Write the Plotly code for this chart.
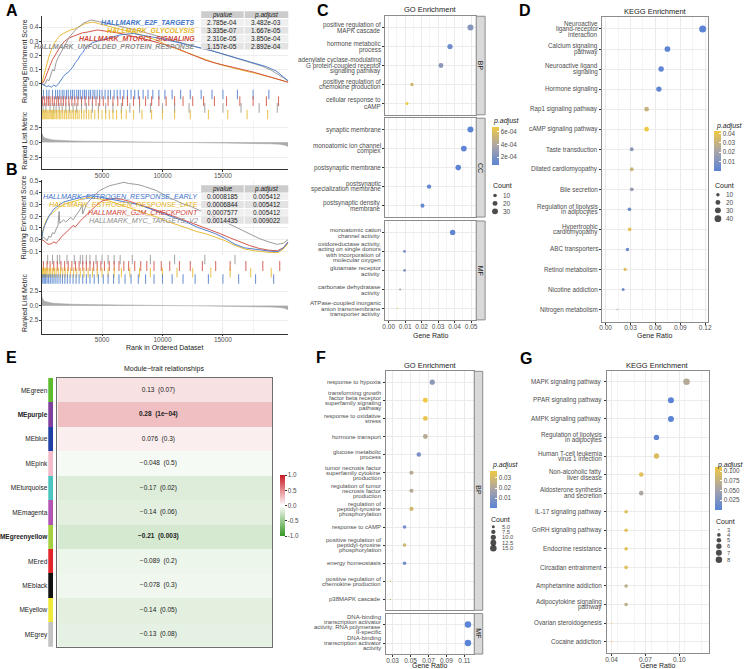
import plotly.graph_objects as go

W, H = 744, 669
FONT = "Arial, Liberation Sans, Helvetica, sans-serif"
TICK = "#4D4D4D"
TXT = "#222222"

# ============================ DATA ============================
# ---------------- Panel A : GSEA ----------------
A_sets = ["HALLMARK_E2F_TARGETS", "HALLMARK_GLYCOLYSIS",
          "HALLMARK_MTORC1_SIGNALING", "HALLMARK_UNFOLDED_PROTEIN_RESPONSE"]
A_pvalue = ["2.785e-04", "3.335e-07", "2.310e-05", "1.157e-05"]
A_padjust = ["3.482e-03", "1.667e-05", "3.850e-04", "2.892e-04"]

A_e2f_rank = [0, 200, 400, 600, 800, 1000, 1200, 1400, 1600, 1800, 2000, 2200, 2400, 2600, 2800, 3000,
              3200, 3400, 3600, 3900, 4200, 4600, 5000, 5500, 6000, 6500, 7000, 7600, 8200, 9000, 9800,
              10600, 11400, 12200, 13000, 13800, 14600, 15400, 16200, 17000, 17800, 18600, 19400, 20000, 20400]
A_e2f_es = [0, -0.01, -0.02, -0.015, -0.025, -0.01, -0.02, 0.0, 0.03, 0.05, 0.07, 0.08, 0.1, 0.12, 0.15, 0.17,
            0.2, 0.22, 0.25, 0.27, 0.29, 0.3, 0.31, 0.32, 0.335, 0.345, 0.35, 0.355, 0.345, 0.335, 0.32,
            0.305, 0.29, 0.27, 0.255, 0.24, 0.22, 0.2, 0.18, 0.16, 0.14, 0.12, 0.09, 0.05, 0.02]

A_glyc_rank = [0, 150, 300, 450, 600, 800, 1000, 1250, 1500, 1800, 2100, 2400, 2700, 3000, 3300, 3600,
               3900, 4300, 4700, 5200, 5800, 6500, 7200, 8000, 8800, 9600, 10400, 11200, 12000, 12800,
               13600, 14400, 15200, 16000, 16800, 17600, 18400, 19200, 19800, 20400]
A_glyc_es = [0, 0.05, 0.1, 0.15, 0.19, 0.24, 0.28, 0.31, 0.34, 0.355, 0.37, 0.38, 0.385, 0.4, 0.41, 0.425,
             0.43, 0.435, 0.425, 0.415, 0.4, 0.385, 0.37, 0.35, 0.33, 0.305, 0.27, 0.245, 0.22, 0.19,
             0.165, 0.145, 0.125, 0.105, 0.09, 0.075, 0.06, 0.04, 0.025, 0.01]

A_mtor_rank = [0, 150, 300, 500, 700, 900, 1100, 1300, 1600, 1900, 2200, 2600, 3000, 3400, 3800, 4200,
               4600, 5000, 5600, 6200, 6800, 7400, 8000, 8800, 9600, 10400, 11200, 12000, 12800, 13600,
               14400, 15200, 16000, 16800, 17600, 18400, 19200, 19800, 20400]
A_mtor_es = [0, 0.01, 0.04, 0.09, 0.13, 0.17, 0.2, 0.23, 0.27, 0.3, 0.32, 0.335, 0.35, 0.36, 0.365, 0.375,
             0.38, 0.375, 0.37, 0.36, 0.35, 0.34, 0.325, 0.31, 0.29, 0.27, 0.25, 0.22, 0.19, 0.165,
             0.145, 0.13, 0.11, 0.095, 0.08, 0.06, 0.04, 0.025, 0.01]

A_upr_rank = [0, 150, 300, 450, 600, 750, 900, 1050, 1200, 1400, 1600, 1800, 2000, 2300, 2600, 2900,
              3200, 3500, 3800, 4100, 4400, 4800, 5200, 5800, 6400, 7000, 7800, 8600, 9400, 10200,
              11000, 11800, 12600, 13400, 14200, 15000, 15800, 16600, 17400, 18200, 19000, 19700, 20400]
A_upr_es = [0, -0.01, 0.0, 0.03, 0.02, 0.07, 0.1, 0.09, 0.15, 0.19, 0.22, 0.26, 0.29, 0.33, 0.36, 0.39,
            0.41, 0.43, 0.44, 0.45, 0.445, 0.44, 0.43, 0.42, 0.41, 0.395, 0.38, 0.36, 0.34, 0.32,
            0.3, 0.28, 0.26, 0.245, 0.23, 0.21, 0.19, 0.17, 0.15, 0.125, 0.095, 0.06, 0.02]

A_e2f_hits = [150, 420, 610, 900, 1150, 1320, 1500, 1700, 1850, 2050, 2200, 2400, 2550, 2700, 2900, 3050,
              3200, 3400, 3550, 3700, 3900, 4050, 4250, 4400, 4600, 4800, 5000, 5250, 5500, 5700, 6000,
              6250, 6500, 6800, 7100, 7400, 7700, 8000, 8400, 8800, 9200, 9700, 10200, 10800, 11500,
              12300, 13200, 14100, 15000, 16200, 17500, 18800]
A_glyc_hits = [30, 100, 180, 260, 350, 430, 520, 610, 700, 800, 900, 1000, 1100, 1220, 1350, 1480, 1600,
               1750, 1900, 2050, 2200, 2350, 2500, 2650, 2800, 2950, 3100, 3300, 3500, 3700, 3900, 4100,
               4400, 4700, 5000, 5300, 5600, 5900, 6200, 6600, 7000, 7600, 8300, 9100, 10000, 11000,
               12300, 13800, 15400, 17000, 18700]
A_mtor_hits = [80, 250, 420, 560, 700, 880, 1050, 1250, 1400, 1600, 1800, 2000, 2250, 2500, 2750, 3000,
               3300, 3600, 3900, 4200, 4500, 4800, 5100, 5500, 5900, 6300, 6700, 7100, 7600, 8100, 8600,
               9100, 9700, 10300, 11000, 11700, 12500, 13400, 14300, 15300, 16400, 17500, 18600, 19600]
A_upr_hits = [120, 350, 700, 1000, 1200, 1450, 1700, 2000, 2300, 2600, 2900, 3300, 3700, 4200, 4700,
              5300, 5900, 6600, 7300, 8100, 9000, 10000, 11000, 12200, 13500, 15000, 16500, 18000, 19500]

# ---------------- Panel B : GSEA ----------------
B_sets = ["HALLMARK_ESTROGEN_RESPONSE_EARLY", "HALLMARK_ESTROGEN_RESPONSE_LATE",
          "HALLMARK_G2M_CHECKPOINT", "HALLMARK_MYC_TARGETS_V2"]
B_pvalue = ["0.0008185", "0.0006844", "0.0007577", "0.0014435"]
B_padjust = ["0.005412", "0.005412", "0.005412", "0.009022"]

B_early_rank = [0, 100, 250, 400, 600, 800, 1000, 1250, 1500, 1800, 2100, 2400, 2800, 3200, 3600, 4000,
                4500, 5000, 5600, 6200, 6800, 7400, 8000, 8800, 9600, 10400, 11200, 12000, 12800, 13600,
                14400, 15200, 16000, 16800, 17600, 18400, 19000, 19600, 20000, 20400]
B_early_es = [0, 0.07, 0.12, 0.16, 0.2, 0.23, 0.26, 0.28, 0.3, 0.32, 0.33, 0.34, 0.35, 0.36, 0.37, 0.375,
              0.37, 0.36, 0.35, 0.34, 0.325, 0.31, 0.3, 0.27, 0.24, 0.21, 0.18, 0.15, 0.11, 0.08,
              0.05, 0.01, -0.04, -0.07, -0.08, -0.09, -0.1, -0.1, -0.07, -0.02]

B_late_rank = [0, 100, 250, 400, 600, 800, 1000, 1250, 1500, 1800, 2100, 2400, 2800, 3200, 3600, 4000,
               4500, 5000, 5600, 6200, 6800, 7400, 8000, 8800, 9600, 10400, 11200, 12000, 12800, 13600,
               14400, 15200, 16000, 16800, 17600, 18400, 19000, 19600, 20000, 20400]
B_late_es = [0, 0.08, 0.13, 0.17, 0.2, 0.22, 0.24, 0.26, 0.28, 0.3, 0.31, 0.32, 0.335, 0.345, 0.355, 0.36,
             0.355, 0.345, 0.33, 0.31, 0.29, 0.27, 0.25, 0.22, 0.19, 0.155, 0.13, 0.1, 0.07, 0.05,
             0.02, -0.01, -0.05, -0.08, -0.095, -0.105, -0.11, -0.11, -0.08, -0.03]

B_g2m_rank = [0, 200, 400, 600, 800, 1000, 1200, 1400, 1600, 1800, 2000, 2200, 2400, 2600, 2800, 3000,
              3200, 3400, 3600, 3800, 4000, 4300, 4600, 5000, 5500, 6000, 6600, 7200, 7800, 8500, 9200,
              10000, 10800, 11600, 12400, 13200, 14000, 14800, 15600, 16400, 17200, 18000, 18800,
              19500, 20000, 20400]
B_g2m_es = [0, -0.01, -0.03, -0.04, -0.035, -0.02, -0.03, -0.01, 0.02, 0.04, 0.06, 0.08, 0.1, 0.12, 0.11,
            0.14, 0.16, 0.18, 0.2, 0.22, 0.24, 0.27, 0.3, 0.33, 0.345, 0.35, 0.345, 0.33, 0.31, 0.29,
            0.265, 0.235, 0.205, 0.175, 0.145, 0.11, 0.08, 0.05, 0.015, -0.02, -0.05, -0.075, -0.09,
            -0.095, -0.07, -0.02]

B_myc_rank = [0, 150, 300, 450, 600, 750, 900, 1050, 1200, 1350, 1450, 1500, 1650, 1800, 2000, 2200, 2400,
              2600, 2800, 3000, 3200, 3350, 3400, 3550, 3700, 4000, 4400, 4800, 5200, 5600, 6000, 6400,
              6800, 7200, 7600, 8000, 8500, 9000, 9500, 10000, 10500, 11000, 11600, 12200, 12800,
              13400, 14000, 14800, 15600, 16400, 17200, 18000, 18800, 19500, 20000, 20400]
B_myc_es = [0, 0.02, 0.01, -0.01, 0.03, 0.02, 0.06, 0.05, 0.09, 0.12, 0.24, 0.14, 0.15, 0.17, 0.15, 0.17,
            0.19, 0.17, 0.2, 0.23, 0.26, 0.3, 0.22, 0.26, 0.3, 0.34, 0.38, 0.42, 0.44, 0.46, 0.47, 0.48,
            0.49, 0.48, 0.475, 0.47, 0.455, 0.44, 0.42, 0.39, 0.36, 0.34, 0.31, 0.29, 0.26, 0.235,
            0.21, 0.17, 0.13, 0.09, 0.05, 0.01, -0.02, -0.04, -0.03, 0.0]

B_early_hits = [40, 120, 220, 330, 450, 580, 720, 870, 1020, 1180, 1350, 1530, 1720, 1920, 2130, 2350,
                2600, 2850, 3100, 3400, 3700, 4000, 4350, 4700, 5100, 5500, 5950, 6400, 6900, 7400,
                8000, 8600, 9300, 10000, 10800, 11700, 12700, 13800, 15000, 16300, 17700, 19200]
B_late_hits = [20, 80, 150, 230, 320, 420, 520, 640, 760, 900, 1050, 1200, 1380, 1560, 1750, 1950, 2150,
               2400, 2650, 2900, 3200, 3500, 3850, 4200, 4600, 5000, 5500, 6000, 6600, 7300, 8100,
               9000, 10000, 11200, 12500, 14000, 15600, 17300, 19000]
B_g2m_hits = [150, 450, 700, 1000, 1300, 1600, 1900, 2200, 2500, 2800, 3100, 3400, 3700, 4000, 4300,
              4600, 4900, 5200, 5600, 6000, 6400, 6800, 7200, 7700, 8200, 8700, 9300, 9900, 10600,
              11400, 12300, 13300, 14400, 15600, 16900, 18300, 19700]
B_myc_hits = [500, 900, 1300, 1500, 2100, 2700, 3200, 3400, 3700, 4000, 4500, 5000, 5500, 6000, 6500,
              7500, 9000, 11000, 13500, 16000]

# ranked list metric (shared by A and B)
rank_x = [0, 50, 150, 300, 500, 800, 1200, 1700, 2500, 3500, 5000, 6500, 8000, 9500, 11000, 12500,
          14000, 15500, 17000, 18000, 19000, 19700, 20100, 20400]
rank_y = [1.6, 1.2, 0.9, 0.7, 0.55, 0.45, 0.37, 0.3, 0.24, 0.19, 0.13, 0.09, 0.06, 0.03, 0.0, -0.03,
          -0.06, -0.1, -0.14, -0.18, -0.24, -0.32, -0.45, -0.7]
rank_ticks = [5000, 10000, 15000]

# ---------------- Panel C : GO enrichment ----------------
C_BP_terms = ["positive regulation of<br>MAPK cascade", "hormone metabolic<br>process",
              "adenylate cyclase-modulating<br>G protein-coupled receptor<br>signaling pathway",
              "positive regulation of<br>chemokine production", "cellular response to<br>cAMP"]
C_BP_ratio = [0.0496, 0.0372, 0.0317, 0.0141, 0.0111]
C_BP_count = [31, 23, 20, 9, 7]
C_BP_padj = [2.4e-4, 1.4e-4, 2.5e-4, 5.2e-4, 6.7e-4]

C_CC_terms = ["synaptic membrane", "monoatomic ion channel<br>complex", "postsynaptic membrane",
              "postsynaptic<br>specialization membrane", "postsynaptic density<br>membrane"]
C_CC_ratio = [0.0496, 0.0456, 0.0422, 0.0245, 0.0205]
C_CC_count = [31, 28, 26, 15, 13]
C_CC_padj = [7e-5, 8e-5, 8e-5, 1.0e-4, 1.1e-4]

C_MF_terms = ["monoatomic cation<br>channel activity",
              "oxidoreductase activity,<br>acting on single donors<br>with incorporation of<br>molecular oxygen",
              "glutamate receptor<br>activity", "carbonate dehydratase<br>activity",
              "ATPase-coupled inorganic<br>anion transmembrane<br>transporter activity"]
C_MF_ratio = [0.0388, 0.0096, 0.0096, 0.0069, 0.0054]
C_MF_count = [24, 6, 6, 4, 3]
C_MF_padj = [8e-5, 1.8e-4, 2.2e-4, 3.6e-4, 6.5e-4]

# ---------------- Panel D : KEGG enrichment ----------------
D_terms = ["Neuroactive<br>ligand-receptor<br>interaction", "Calcium signaling<br>pathway",
           "Neuroactive ligand<br>signaling", "Hormone signaling", "Rap1 signaling pathway",
           "cAMP signaling pathway", "Taste transduction", "Dilated cardiomyopathy", "Bile secretion",
           "Regulation of lipolysis<br>in adipocytes", "Hypertrophic<br>cardiomyopathy", "ABC transporters",
           "Retinol metabolism", "Nicotine addiction", "Nitrogen metabolism"]
D_ratio = [0.117, 0.0745, 0.0669, 0.0642, 0.0494, 0.0494, 0.0315, 0.0315, 0.0315, 0.0287, 0.029,
           0.0263, 0.0235, 0.0211, 0.014]
D_count = [44, 28, 25, 24, 18, 18, 12, 12, 12, 11, 11, 10, 9, 8, 5]
D_padj = [0.0001, 0.0008, 0.0016, 0.0016, 0.030, 0.043, 0.013, 0.031, 0.016, 0.006, 0.040, 0.005,
          0.037, 0.007, 0.020]

# ---------------- Panel E : module-trait ----------------
E_modules = ["MEgreen", "MEpurple", "MEblue", "MEpink", "MEturquoise", "MEmagenta", "MEgreenyellow",
             "MEred", "MEblack", "MEyellow", "MEgrey"]
E_cor = [0.13, 0.28, 0.076, -0.048, -0.17, -0.14, -0.21, -0.089, -0.078, -0.14, -0.13]
E_cor_text = ["0.13", "0.28", "0.076", "\u22120.048", "\u22120.17", "\u22120.14", "\u22120.21",
              "\u22120.089", "\u22120.078", "\u22120.14", "\u22120.13"]
E_pval_text = ["0.07", "1e\u221204", "0.3", "0.5", "0.02", "0.06", "0.003", "0.2", "0.3", "0.05", "0.08"]
E_bold = [False, True, False, False, False, False, True, False, False, False, False]
E_module_colors = ["#5DBB2E", "#7E3F9E", "#1E3FA3", "#F4BCCB", "#4CC4C0", "#B254B4", "#A6D03F",
                   "#E2262B", "#111111", "#EFEA3A", "#C2C2C2"]

# ---------------- Panel F : GO enrichment ----------------
F_BP_terms = ["response to hypoxia",
              "transforming growth<br>factor beta receptor<br>superfamily signaling<br>pathway",
              "response to oxidative<br>stress", "hormone transport", "glucose metabolic<br>process",
              "tumor necrosis factor<br>superfamily cytokine<br>production",
              "regulation of tumor<br>necrosis factor<br>production",
              "regulation of<br>peptidyl-tyrosine<br>phosphorylation", "response to cAMP",
              "positive regulation of<br>peptidyl-tyrosine<br>phosphorylation", "energy homeostasis",
              "positive regulation of<br>chemokine production", "p38MAPK cascade"]
F_BP_ratio = [0.0742, 0.0665, 0.0665, 0.0665, 0.0592, 0.051, 0.051, 0.051, 0.0433, 0.0433, 0.0433,
              0.0275, 0.0275]
F_BP_count = [10, 9, 9, 9, 8, 7, 7, 7, 6, 6, 6, 4, 4]
F_BP_padj = [0.012, 0.037, 0.035, 0.022, 0.008, 0.022, 0.022, 0.029, 0.006, 0.028, 0.006, 0.031, 0.027]

F_MF_terms = ["DNA-binding<br>transcription activator<br>activity, RNA polymerase<br>II-specific",
              "DNA-binding<br>transcription activator<br>activity"]
F_MF_ratio = [0.114, 0.114]
F_MF_count = [15, 15]
F_MF_padj = [0.0005, 0.0005]

# ---------------- Panel G : KEGG enrichment ----------------
G_terms = ["MAPK signaling pathway", "PPAR signaling pathway", "AMPK signaling pathway",
           "Regulation of lipolysis<br>in adipocytes", "Human T-cell leukemia<br>virus 1 infection",
           "Non-alcoholic fatty<br>liver disease", "Aldosterone synthesis<br>and secretion",
           "IL-17 signaling pathway", "GnRH signaling pathway", "Endocrine resistance",
           "Circadian entrainment", "Amphetamine addiction", "Adipocytokine signaling<br>pathway",
           "Ovarian steroidogenesis", "Cocaine addiction"]
G_ratio = [0.1064, 0.0926, 0.0926, 0.0798, 0.0798, 0.0663, 0.0663, 0.0529, 0.0529, 0.0529, 0.0529,
           0.0529, 0.0529, 0.04, 0.04]
G_count = [8, 7, 7, 6, 6, 5, 5, 4, 4, 4, 4, 4, 4, 3, 3]
G_padj = [0.065, 0.0005, 0.0006, 0.004, 0.095, 0.1, 0.06, 0.1, 0.1, 0.1, 0.1, 0.072, 0.072, 0.112, 0.112]

# ============================ STYLE / HELPERS ============================
COL_BLUE, COL_YEL, COL_RED, COL_GREY = "#3F74C9", "#E6B422", "#CF4537", "#8E8E8E"
DOT_CS = [[0, "#5B84D6"], [0.5, "#A9A4A7"], [1, "#F0C843"]]
E_CS = [[0, "rgb(55,150,35)"], [0.5, "rgb(255,255,255)"], [1, "rgb(200,25,35)"]]
TF = dict(family=FONT, size=6.5, color=TICK)

fig = go.Figure()
L = {}
shapes = []
anns = []


def fx(p):
    return p / W


def fy(p):
    return 1 - p / H


def axes(i, x0, x1, y0, y1, xo, yo):
    s = "" if i == 1 else str(i)
    xa = dict(domain=[fx(x0), fx(x1)], anchor="y" + s, fixedrange=True)
    ya = dict(domain=[fy(y1), fy(y0)], anchor="x" + s, fixedrange=True)
    xa.update(xo)
    ya.update(yo)
    L["xaxis" + s] = xa
    L["yaxis" + s] = ya
    return "x" + s, "y" + s


def text(x, y, t, size=7, color=TXT, xanchor="center", yanchor="middle", angle=0):
    anns.append(dict(x=fx(x), y=fy(y), xref="paper", yref="paper", text=t, showarrow=False,
                     xanchor=xanchor, yanchor=yanchor, textangle=angle,
                     font=dict(family=FONT, size=size, color=color)))


def size_fn(counts, cmin, cmax, dmin, dmax):
    return [dmin + (max(c - cmin, 0) / (cmax - cmin)) ** 0.5 * (dmax - dmin) for c in counts]


# ============================ GSEA PANELS ============================
def gsea_axes(i0, top, es_bot, rug_bot, bot, es_range, es_ticks, rk_range):
    cx = dict(range=[0, 20410], zeroline=False, showgrid=True, gridcolor="#EBEBEB", gridwidth=0.6,
              tickvals=rank_ticks, ticktext=[str(v) for v in rank_ticks],
              minor=dict(tickvals=[2500, 7500, 12500, 17500], showgrid=True, gridcolor="#F3F3F3",
                         gridwidth=0.5))
    yl = dict(zeroline=False, showline=True, linecolor="#333", linewidth=0.8, ticks="outside", ticklen=2,
              tickcolor="#333", tickfont=TF, ticklabelstandoff=-1)
    es = axes(i0, 39, 288, top, es_bot, dict(cx, showticklabels=False, ticks=""),
              dict(yl, range=es_range, tickvals=es_ticks, tickformat=".1f", showgrid=True,
                   gridcolor="#EEEEEE", gridwidth=0.5))
    rug = axes(i0 + 1, 39, 288, es_bot, rug_bot,
               dict(range=[0, 20410], showgrid=False, showticklabels=False, zeroline=False),
               dict(range=[-0.2, 4.2], showgrid=False, showticklabels=False, zeroline=False,
                    showline=True, linecolor="#333", linewidth=0.8))
    rk = axes(i0 + 2, 39, 288, rug_bot, bot,
              dict(cx, showticklabels=True, ticks="outside", ticklen=2, tickcolor="#333", showline=True,
                   linecolor="#333", linewidth=0.8, tickfont=TF, ticklabelstandoff=-2),
              dict(yl, range=rk_range, tickvals=[-2.5, 0, 2.5], tickformat=".1f", showgrid=True,
                   gridcolor="#EEEEEE", gridwidth=0.5))
    return es, rug, rk


def add_line(x, y, color, ax):
    fig.add_trace(go.Scatter(x=x, y=y, mode="lines", line=dict(color=color, width=0.9),
                             xaxis=ax[0], yaxis=ax[1], hoverinfo="skip"))


def add_rug(hits, row, color, ax):
    fig.add_trace(go.Scatter(x=hits, y=[row] * len(hits), mode="markers",
                             marker=dict(symbol="line-ns", size=7, line=dict(color=color, width=1.1)),
                             opacity=0.75, xaxis=ax[0], yaxis=ax[1], hoverinfo="skip"))


def add_rank(ax):
    fig.add_trace(go.Scatter(x=rank_x, y=rank_y, mode="lines", fill="tozeroy", fillcolor="#ABABAB",
                             line=dict(color="#9A9A9A", width=0.5), xaxis=ax[0], yaxis=ax[1],
                             hoverinfo="skip"))


def add_table(hdr_y, pvals, padjs):
    step = 7.9
    cols = [(200, 243), (244, 288)]
    hdr = ["<i>pvalue</i>", "<i>p.adjust</i>"]
    for r in range(len(pvals) + 1):
        yc = hdr_y + r * step
        fill = "#CCCCCC" if r == 0 else ("#EFEFEF" if r % 2 == 1 else "#E3E3E3")
        for c, (a, b) in enumerate(cols):
            shapes.append(dict(type="rect", xref="paper", yref="paper", x0=fx(a), x1=fx(b),
                               y0=fy(yc + step / 2 - 0.5), y1=fy(yc - step / 2 + 0.5),
                               fillcolor=fill, line=dict(width=0), layer="above"))
            t = hdr[c] if r == 0 else (pvals if c == 0 else padjs)[r - 1]
            text((a + b) / 2, yc, t, size=6.5, color="#222")


# --- A ---
esA, rugA, rkA = gsea_axes(1, 13, 87, 117, 167, [-0.042, 0.479], [0, 0.1, 0.2, 0.3, 0.4], [-4.5, 3.83])
add_line(A_glyc_rank, A_glyc_es, COL_YEL, esA)
add_line(A_mtor_rank, A_mtor_es, COL_RED, esA)
add_line(A_upr_rank, A_upr_es, COL_GREY, esA)
add_line(A_e2f_rank, A_e2f_es, COL_BLUE, esA)
add_rug(A_e2f_hits, 3.5, COL_BLUE, rugA)
add_rug(A_mtor_hits, 2.5, COL_RED, rugA)
add_rug(A_upr_hits, 1.5, COL_GREY, rugA)
add_rug(A_glyc_hits, 0.5, COL_YEL, rugA)
add_rank(rkA)
add_table(11.7, A_pvalue, A_padjust)
for k, (name, col) in enumerate(zip(A_sets, [COL_BLUE, COL_YEL, COL_RED, COL_GREY])):
    text(196, 19.6 + 7.9 * k, "<b><i>%s</i></b>" % name, size=7, color=col, xanchor="right")
text(21.5, 58, "Running Enrichment Score", size=7, angle=-90)
text(21.5, 138, "Ranked List Metric", size=7, angle=-90)

# --- B ---
esB, rugB, rkB = gsea_axes(4, 178, 253, 282, 332, [-0.130, 0.508], [-0.1, 0, 0.1, 0.2, 0.3, 0.4, 0.5],
                           [-4.83, 3.79])
add_line(B_late_rank, B_late_es, COL_YEL, esB)
add_line(B_g2m_rank, B_g2m_es, COL_RED, esB)
add_line(B_myc_rank, B_myc_es, COL_GREY, esB)
add_line(B_early_rank, B_early_es, COL_BLUE, esB)
add_rug(B_myc_hits, 3.5, COL_GREY, rugB)
add_rug(B_g2m_hits, 2.5, COL_RED, rugB)
add_rug(B_late_hits, 1.5, COL_YEL, rugB)
add_rug(B_early_hits, 0.5, COL_BLUE, rugB)
add_rank(rkB)
add_table(186.6, B_pvalue, B_padjust)
for k, (name, col) in enumerate(zip(B_sets, [COL_BLUE, COL_YEL, COL_RED, COL_GREY])):
    text(199, 194.5 + 7.9 * k, "<i>%s</i>" % name, size=7.2, color=col, xanchor="right")
text(21.5, 215, "Running Enrichment Score", size=7, angle=-90)
text(21.5, 301, "Ranked List Metric", size=7, angle=-90)
text(163, 346, "Rank in Ordered Dataset", size=7)


# ============================ DOT PLOTS ============================
def dot_x(rng, tick0, dtick, show):
    return dict(range=rng, tick0=tick0, dtick=dtick, tickformat=".2f", showgrid=True, gridcolor="#EBEBEB",
                gridwidth=0.6, minor=dict(dtick=dtick / 2, showgrid=True, gridcolor="#F4F4F4", gridwidth=0.5),
                zeroline=False, showline=True, mirror=True, linecolor="#8C8C8C", linewidth=1,
                ticks="outside" if show else "", ticklen=2, tickcolor="#333", showticklabels=show, tickfont=TF,
                ticklabelstandoff=-2)


def dot_y(terms):
    n = len(terms)
    return dict(type="category", categoryorder="array", categoryarray=terms, range=[n - 0.4, -0.6],
                showgrid=True, gridcolor="#EBEBEB", gridwidth=0.6, zeroline=False, showline=True, mirror=True,
                linecolor="#8C8C8C", linewidth=1, ticks="outside", ticklen=2, tickcolor="#333",
                showticklabels=False)


def term_labels(ax, terms, x_right, spacing, size=6.3):
    # wrapped category labels, right-aligned and centred on each category of the y axis
    for idx, term in enumerate(terms):
        lines = term.split("<br>")
        n = len(lines)
        for j, line in enumerate(lines):
            anns.append(dict(x=fx(x_right), xref="paper", y=idx, yref=ax[1], text=line, showarrow=False,
                             xanchor="right", yanchor="middle", yshift=-(j - (n - 1) / 2) * spacing,
                             borderpad=0, font=dict(family=FONT, size=size, color=TICK)))


def add_dots(ax, ratio, terms, counts, padj, cax, cmin, cmax, dmin, dmax):
    fig.add_trace(go.Scatter(x=ratio, y=terms, mode="markers", xaxis=ax[0], yaxis=ax[1], hoverinfo="skip",
                             marker=dict(size=size_fn(counts, cmin, cmax, dmin, dmax), color=padj,
                                         coloraxis=cax, line=dict(width=0), opacity=1)))


def strip(x0, x1, y0, y1, label):
    shapes.append(dict(type="rect", xref="paper", yref="paper", x0=fx(x0), x1=fx(x1), y0=fy(y1), y1=fy(y0),
                       fillcolor="#D9D9D9", line=dict(color="#8C8C8C", width=1), layer="above"))
    text((x0 + x1) / 2, (y0 + y1) / 2, label, size=7, color="#1A1A1A", angle=90)


def size_legend(x_dot, x_lab, y_title, ys, vals, labels, cmin, cmax, dmin, dmax, fs=6.5):
    text(x_dot - 4.5, y_title, "Count", size=7, xanchor="left")
    fig.add_trace(go.Scatter(x=[x_dot] * len(vals), y=ys, mode="markers", xaxis="x30", yaxis="y30",
                             marker=dict(size=size_fn(vals, cmin, cmax, dmin, dmax), color="black",
                                         line=dict(width=0)), hoverinfo="skip"))
    for yv, lab in zip(ys, labels):
        text(x_lab, yv, lab, size=fs, color=TICK, xanchor="left")


def cbar(x, ytop, length, tickvals, ticktext, cmin, cmax, cs=DOT_CS, thick=7, ticks="inside",
         tickcolor="white"):
    return dict(colorscale=cs, cmin=cmin, cmax=cmax,
                colorbar=dict(x=fx(x), xanchor="left", y=fy(ytop), yanchor="top", len=length,
                              lenmode="pixels", thickness=thick, outlinewidth=0, ticks=ticks, ticklen=2,
                              tickcolor=tickcolor, tickvals=tickvals, ticktext=ticktext,
                              tickfont=dict(family=FONT, size=6.3, color=TICK), xpad=0, ypad=0))


# overlay axis for legend keys (transparent background)
axes(30, 0, W, 0, H, dict(range=[0, W], visible=False), dict(range=[H, 0], visible=False))

# --- C ---
C_all_counts = C_BP_count + C_CC_count + C_MF_count
C_all_padj = C_BP_padj + C_CC_padj + C_MF_padj
cC = (min(C_all_counts), max(C_all_counts), 1.2, 6.0)
axBP = axes(7, 385.7, 477.7, 13.3, 112.3, dot_x([-0.0022, 0.0531], 0, 0.01, False), dot_y(C_BP_terms))
axCC = axes(8, 385.7, 477.7, 115.7, 215, dot_x([-0.0022, 0.0531], 0, 0.01, False), dot_y(C_CC_terms))
axMF = axes(9, 385.7, 477.7, 219, 318.3, dot_x([-0.0022, 0.0531], 0, 0.01, True), dot_y(C_MF_terms))
add_dots(axBP, C_BP_ratio, C_BP_terms, C_BP_count, C_BP_padj, "coloraxis", *cC)
add_dots(axCC, C_CC_ratio, C_CC_terms, C_CC_count, C_CC_padj, "coloraxis", *cC)
add_dots(axMF, C_MF_ratio, C_MF_terms, C_MF_count, C_MF_padj, "coloraxis", *cC)
term_labels(axBP, C_BP_terms, 382.5, 5.9)
term_labels(axCC, C_CC_terms, 382.5, 5.7)
term_labels(axMF, C_MF_terms, 382.5, 5.5, size=6.1)
strip(477.7, 486.7, 13.3, 112.3, "BP")
strip(477.7, 486.7, 115.7, 215, "CC")
strip(477.7, 486.7, 219, 318.3, "MF")
text(431.7, 6.5, "GO Enrichment", size=7.5)
text(431.7, 333.5, "Gene Ratio", size=7)
text(493, 118.5, "<i>p.adjust</i>", size=7, xanchor="left")
size_legend(496.7, 503, 183, [193.3, 201.3, 209.3], [10, 20, 30], ["10", "20", "30"], *cC)

# --- D ---
cD = (min(D_count), max(D_count), 1.5, 7.0)
axD = axes(10, 605, 711.7, 14, 320, dot_x([-0.004, 0.1234], 0, 0.03, True), dot_y(D_terms))
add_dots(axD, D_ratio, D_terms, D_count, D_padj, "coloraxis2", *cD)
term_labels(axD, D_terms, 601.7, 5.4)
text(658.3, 8.3, "KEGG Enrichment", size=7.5)
text(658.3, 333.5, "Gene Ratio", size=7)
text(717.7, 123.3, "<i>p.adjust</i>", size=7, xanchor="left")
size_legend(721.7, 727.5, 183.3, [192.7, 200.3, 208.3, 216.7], [10, 20, 30, 40], ["10", "20", "30", "40"], *cD)

# --- F ---
F_all_counts = F_BP_count + F_MF_count
F_all_padj = F_BP_padj + F_MF_padj
cF = (min(F_all_counts), max(F_all_counts), 1.5, 6.5)
axFB = axes(13, 386.7, 475.7, 370, 610, dot_x([0.0227, 0.121], 0.03, 0.02, False), dot_y(F_BP_terms))
axFM = axes(14, 386.7, 475.7, 613.3, 654, dot_x([0.0227, 0.121], 0.03, 0.02, True), dot_y(F_MF_terms))
add_dots(axFB, F_BP_ratio, F_BP_terms, F_BP_count, F_BP_padj, "coloraxis4", *cF)
add_dots(axFM, F_MF_ratio, F_MF_terms, F_MF_count, F_MF_padj, "coloraxis4", *cF)
term_labels(axFB, F_BP_terms, 383, 4.8, size=6.0)
term_labels(axFM, F_MF_terms, 383, 4.8, size=6.0)
strip(475.7, 484.3, 370, 610, "BP")
strip(475.7, 484.3, 613.3, 654, "MF")
text(431.2, 364.3, "GO Enrichment", size=7.5)
text(431.2, 665, "Gene Ratio", size=7)
text(491.7, 464.3, "<i>p.adjust</i>", size=7, xanchor="left")
size_legend(495, 501.5, 519, [526, 531.3, 536.7, 542.2, 547.7], [5, 7.5, 10, 12.5, 15],
            ["5.0", "7.5", "10.0", "12.5", "15.0"], *cF, fs=5.8)

# --- G ---
cG = (min(G_count), max(G_count), 1.3, 6.5)
axG = axes(15, 609.3, 712.7, 369.3, 652.7, dot_x([0.0356, 0.1263], 0.04, 0.03, True), dot_y(G_terms))
add_dots(axG, G_ratio, G_terms, G_count, G_padj, "coloraxis5", *cG)
term_labels(axG, G_terms, 606, 5.3)
text(661, 364.3, "KEGG Enrichment", size=7.5)
text(661, 665, "Gene Ratio", size=7)
text(718.3, 464.3, "<i>p.adjust</i>", size=7, xanchor="left")
size_legend(722.7, 728.5, 520.7, [529, 534.3, 539.7, 545.7, 552.3, 559.3], [3, 4, 5, 6, 7, 8],
            ["3", "4", "5", "6", "7", "8"], *cG, fs=5.8)

# ============================ E : HEATMAP ============================
nE = len(E_modules)
axE = axes(11, 55, 271.7, 376.7, 646.7,
           dict(range=[-0.5, 0.5], showticklabels=False, showgrid=False, zeroline=False, showline=True,
                mirror=True, linecolor="#6E6E6E", linewidth=1, ticks=""),
           dict(type="category", categoryorder="array", categoryarray=E_modules, range=[nE - 0.5, -0.5],
                showticklabels=False, showgrid=False, zeroline=False, showline=True, mirror=True,
                linecolor="#6E6E6E", linewidth=1, ticks=""))
fig.add_trace(go.Heatmap(z=[[v] for v in E_cor], x=[0], y=E_modules, coloraxis="coloraxis3",
                         xaxis=axE[0], yaxis=axE[1], hoverinfo="skip"))
cell_txt = []
for c, p, b in zip(E_cor_text, E_pval_text, E_bold):
    t = "%s\u00a0\u00a0(%s)" % (c, p)
    cell_txt.append("<b>%s</b>" % t if b else t)
fig.add_trace(go.Scatter(x=[-0.03] * nE, y=E_modules, mode="text", text=cell_txt,
                         textfont=dict(family=FONT, size=6.5, color="#222"), xaxis=axE[0], yaxis=axE[1],
                         hoverinfo="skip"))
axS = axes(12, 45.7, 50.7, 376.7, 646.7,
           dict(range=[0, 1], showticklabels=False, showgrid=False, zeroline=False, ticks=""),
           dict(type="category", categoryorder="array", categoryarray=E_modules, range=[nE - 0.5, -0.5],
                tickvals=E_modules,
                ticktext=["<b>%s</b>" % m if b else m for m, b in zip(E_modules, E_bold)],
                showgrid=False, zeroline=False, ticks="", tickfont=dict(family=FONT, size=6.5, color="#222")))
fig.add_trace(go.Bar(x=[1] * nE, y=E_modules, orientation="h", width=1.0,
                     marker=dict(color=E_module_colors, line=dict(width=0)),
                     xaxis=axS[0], yaxis=axS[1], hoverinfo="skip"))
text(163, 367.3, "Module\u2212trait relationships", size=7)

# ============================ PANEL LETTERS ============================
for lab, x, y in [("A", 1, 8), ("B", 1, 167), ("C", 315, 8), ("D", 519, 8), ("E", 1, 356.5),
                  ("F", 314, 356.5), ("G", 520, 357)]:
    text(x, y, "<b>%s</b>" % lab, size=16, color="black", xanchor="left")

# ============================ LAYOUT ============================
fig.update_layout(
    width=W, height=H, margin=dict(l=0, r=0, t=0, b=0, pad=0),
    paper_bgcolor="white", plot_bgcolor="rgba(255,255,255,0)", showlegend=False,
    font=dict(family=FONT, size=7, color=TXT),
    shapes=shapes, annotations=anns, bargap=0,
    coloraxis=cbar(493.3, 125, 38, [2e-4, 4e-4, 6e-4], ["2e-04", "4e-04", "6e-04"],
                   min(C_all_padj), max(C_all_padj)),
    coloraxis2=cbar(718, 128.3, 40, [0.01, 0.02, 0.03, 0.04], ["0.01", "0.02", "0.03", "0.04"],
                    min(D_padj), max(D_padj)),
    coloraxis3=cbar(280, 474.3, 61, [-1, -0.5, 0, 0.5, 1], ["-1.0", "-0.5", "0.0", "0.5", "1.0"], -1, 1,
                    cs=E_CS, thick=5, ticks="outside", tickcolor="#333"),
    coloraxis4=cbar(491.7, 470, 37, [0.01, 0.02, 0.03], ["0.01", "0.02", "0.03"],
                    min(F_all_padj), max(F_all_padj)),
    coloraxis5=cbar(718.3, 465.7, 43, [0.025, 0.05, 0.075, 0.1], ["0.025", "0.050", "0.075", "0.100"],
                    min(G_padj), max(G_padj)),
    **L,
)

fig.write_html("out.html")
